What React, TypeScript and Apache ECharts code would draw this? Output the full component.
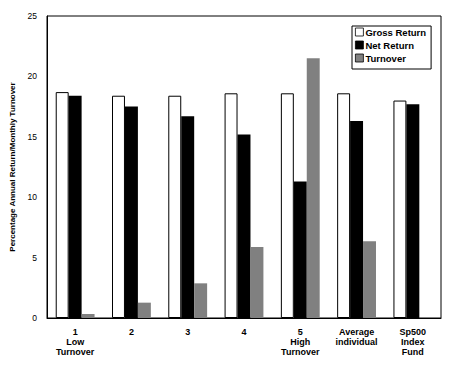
import React, { useEffect, useRef } from "react";
import * as echarts from "echarts";

const categories = ["1\nLow\nTurnover", "2", "3", "4", "5\nHigh\nTurnover", "Average\nindividual", "Sp500\nIndex\nFund"];
const grossReturn = [18.7, 18.4, 18.4, 18.6, 18.6, 18.6, 18.0];
const netReturn = [18.4, 17.5, 16.7, 15.2, 11.3, 16.3, 17.7];
const turnover: (number | string)[] = [0.33, 1.27, 2.87, 5.88, 21.5, 6.35, "-"];
const yTicks = { min: 0, max: 25, interval: 5 };

const FONT = "'Liberation Sans', Arial, sans-serif";

export default function App() {
  const ref = useRef<HTMLDivElement>(null);
  useEffect(() => {
    const chart = echarts.init(ref.current!, null, { renderer: "svg" });
    chart.setOption({
      animation: false,
      backgroundColor: "#ffffff",
      textStyle: { fontFamily: FONT, color: "#000" },
      grid: {
        left: 47, right: 11, top: 16, bottom: 53,
        show: true, borderColor: "#000", borderWidth: 1, backgroundColor: "transparent",
      },
      legend: {
        orient: "vertical",
        left: 352, top: 26,
        backgroundColor: "#fff",
        borderColor: "#000", borderWidth: 1, borderRadius: 0,
        padding: [1, 5, 6, 3],
        itemWidth: 8, itemHeight: 8, itemGap: 3,
        icon: "rect",
        itemStyle: { borderColor: "#000", borderWidth: 0.8 },
        textStyle: { fontFamily: FONT, fontSize: 9.5, fontWeight: "bold", color: "#000", padding: [0, 0, 0, -3], lineHeight: 10 },
        data: ["Gross Return", "Net Return", "Turnover"],
      },
      xAxis: {
        type: "category",
        data: categories,
        axisLine: { lineStyle: { color: "#000", width: 1 } },
        axisTick: { show: false },
        axisLabel: { interval: 0, fontFamily: FONT, fontSize: 9, fontWeight: "bold", color: "#000", lineHeight: 10, margin: 9 },
      },
      yAxis: {
        type: "value",
        min: yTicks.min, max: yTicks.max, interval: yTicks.interval,
        name: "Percentage Annual Return/Monthly Turnover",
        nameLocation: "middle",
        nameGap: 27,
        nameTextStyle: { fontFamily: FONT, fontSize: 8, fontWeight: "bold", color: "#000" },
        axisLine: { show: true, lineStyle: { color: "#000", width: 1 } },
        axisTick: { show: false },
        splitLine: { show: false },
        axisLabel: { fontFamily: FONT, fontSize: 8.5, color: "#000", margin: 10 },
      },
      series: [
        {
          name: "Gross Return", type: "bar", data: grossReturn,
          barGap: "0%", barCategoryGap: "31%",
          itemStyle: { color: "#ffffff", borderColor: "#000", borderWidth: 1 },
        },
        {
          name: "Net Return", type: "bar", data: netReturn,
          barGap: "0%", barCategoryGap: "31%",
          itemStyle: { color: "#000000" },
        },
        {
          name: "Turnover", type: "bar", data: turnover,
          barGap: "0%", barCategoryGap: "31%",
          itemStyle: { color: "#808080" },
        },
      ],
    });
    return () => chart.dispose();
  }, []);
  return <div ref={ref} style={{ width: 452, height: 371, position: "absolute", left: 0, top: 0 }} />;
}
